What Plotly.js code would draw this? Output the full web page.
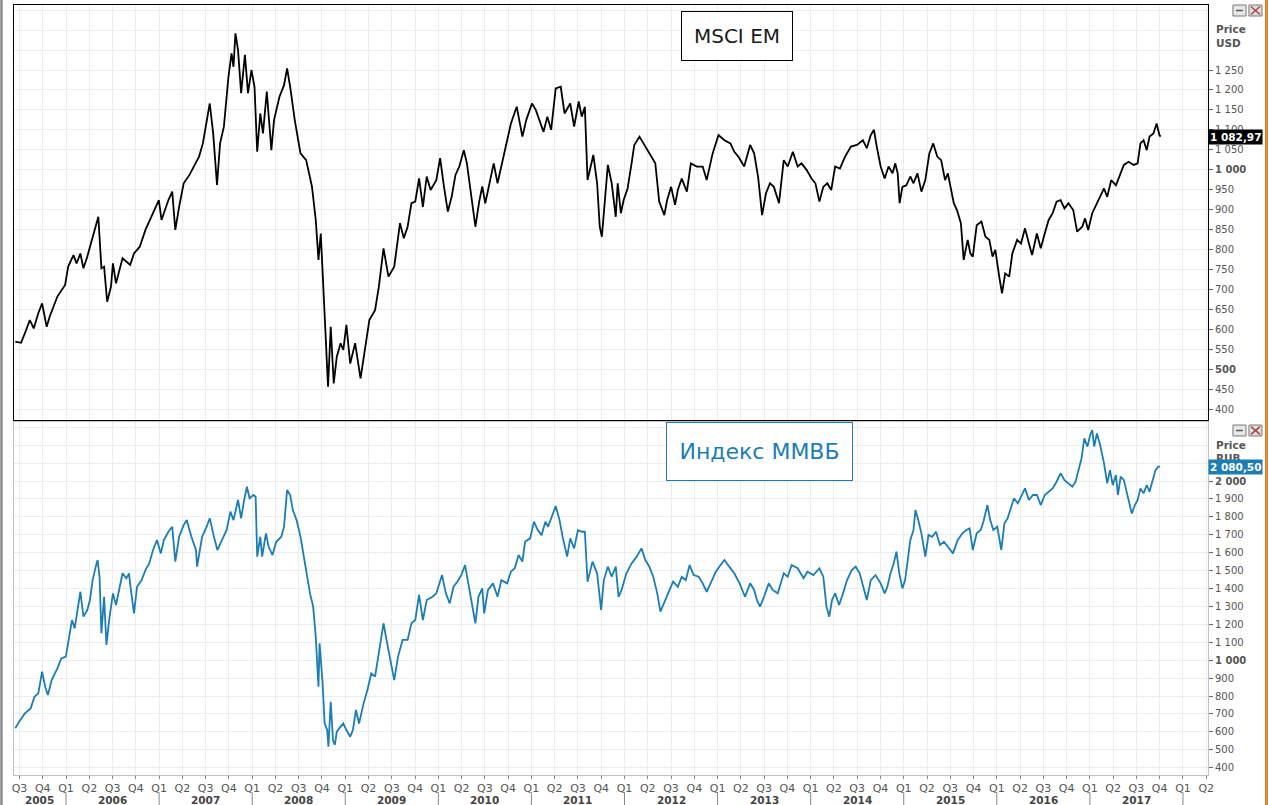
<!DOCTYPE html>
<html><head><meta charset="utf-8">
<script src="https://cdn.plot.ly/plotly-3.0.1.min.js"></script>
<style>html,body{margin:0;padding:0;background:#fff;}#chart{width:1269px;height:805px;}</style>
</head><body><div id="chart"></div>
<script>
// ---- data (decimal years, index values) ----
const MSCI_T = [2005.455,2005.517,2005.558,2005.611,2005.653,2005.702,2005.743,2005.792,2005.825,2005.907,2005.990,
2006.023,2006.080,2006.113,2006.154,2006.187,2006.228,2006.278,2006.319,2006.347,2006.380,2006.409,2006.442,2006.483,2006.504,2006.537,2006.607,2006.689,2006.730,2006.792,2006.853,2006.935,2006.997,
2007.026,2007.100,2007.141,2007.174,2007.215,2007.264,2007.326,2007.388,2007.429,2007.470,2007.511,2007.544,2007.581,2007.622,2007.655,2007.696,2007.745,2007.778,2007.799,2007.820,2007.848,2007.881,2007.922,2007.955,2007.992,
2008.025,2008.054,2008.087,2008.116,2008.157,2008.206,2008.235,2008.293,2008.342,2008.375,2008.408,2008.457,2008.519,2008.580,2008.642,2008.683,2008.712,2008.737,2008.765,2008.786,2008.815,2008.844,2008.876,2008.909,2008.950,2008.979,
2009.012,2009.053,2009.106,2009.164,2009.218,2009.259,2009.320,2009.361,2009.411,2009.464,2009.526,2009.588,2009.629,2009.670,2009.711,2009.752,2009.793,2009.834,2009.875,2009.917,2009.978,
2010.019,2010.060,2010.102,2010.143,2010.184,2010.225,2010.274,2010.307,2010.348,2010.398,2010.439,2010.472,2010.504,2010.554,2010.595,2010.636,2010.686,2010.739,2010.780,2010.842,2010.903,2010.945,
2011.006,2011.047,2011.130,2011.171,2011.212,2011.261,2011.315,2011.356,2011.417,2011.459,2011.508,2011.541,2011.574,2011.603,2011.665,2011.706,2011.734,2011.757,2011.791,2011.821,2011.863,2011.906,2011.927,2011.961,2011.991,
2012.033,2012.076,2012.105,2012.161,2012.224,2012.267,2012.331,2012.373,2012.428,2012.458,2012.501,2012.543,2012.573,2012.615,2012.670,2012.713,2012.777,2012.840,2012.883,2012.947,
2013.010,2013.074,2013.138,2013.180,2013.223,2013.286,2013.350,2013.393,2013.435,2013.478,2013.520,2013.563,2013.605,2013.660,2013.711,2013.754,2013.809,2013.860,2013.902,2013.958,
2014.009,2014.051,2014.094,2014.136,2014.179,2014.221,2014.263,2014.314,2014.370,2014.433,2014.497,2014.561,2014.603,2014.646,2014.680,2014.710,2014.752,2014.795,2014.837,2014.880,2014.909,2014.935,2014.956,2014.986,
2015.028,2015.071,2015.105,2015.147,2015.190,2015.232,2015.275,2015.317,2015.360,2015.402,2015.444,2015.474,2015.517,2015.538,2015.572,2015.614,2015.644,2015.687,2015.716,2015.742,2015.784,2015.835,2015.878,2015.920,2015.954,2015.984,
2016.026,2016.056,2016.090,2016.133,2016.167,2016.218,2016.260,2016.303,2016.345,2016.379,2016.430,2016.472,2016.515,2016.557,2016.600,2016.642,2016.685,2016.727,2016.770,2016.821,2016.863,2016.918,2016.948,2016.982,
2017.025,2017.067,2017.110,2017.152,2017.186,2017.229,2017.280,2017.322,2017.365,2017.416,2017.471,2017.513,2017.543,2017.577,2017.611,2017.641,2017.683,2017.717,2017.747,2017.760];
const MSCI_V = [569,566,590,623,602,640,665,606,632,682,711,
757,786,765,790,753,782,824,857,882,753,757,669,707,765,715,778,761,790,807,849,891,924,
874,924,945,849,907,966,987,1016,1033,1066,1125,1166,1091,962,1066,1108,1233,1292,1258,1342,1300,1192,1288,1192,1250,
1208,1045,1141,1091,1196,1049,1125,1183,1212,1254,1208,1125,1041,1024,958,874,774,840,690,606,456,606,464,531,565,548,
611,514,565,477,560,623,648,707,803,732,757,866,828,857,916,920,978,907,983,949,974,
1029,958,895,932,987,1008,1049,1016,941,857,920,958,916,974,1016,966,1016,1074,1116,1158,1083,1125,
1166,1150,1095,1133,1100,1204,1208,1141,1166,1108,1171,1133,1158,974,1037,966,857,832,941,1012,966,882,966,891,924,
953,1016,1062,1083,1058,1041,1016,920,886,924,957,912,949,978,945,1016,1008,1008,974,1041,
1087,1074,1066,1045,1033,1008,1062,1041,983,886,941,966,957,916,1024,1008,1045,1008,1016,999,
978,966,920,957,966,949,1008,1003,1033,1058,1062,1074,1054,1087,1100,1058,1008,978,1008,991,1016,991,916,957,
961,983,966,991,945,974,1041,1066,1033,1024,974,991,941,916,899,866,774,824,790,782,861,870,832,824,782,799,
732,690,740,732,790,824,815,853,815,786,840,803,840,874,891,920,924,903,916,899,845,857,878,849,
891,912,932,953,932,974,961,987,1012,1020,1012,1016,1066,1074,1049,1083,1091,1116,1087,1082.97];

const MICEX_T = [2005.455,2005.496,2005.558,2005.620,2005.661,2005.702,2005.743,2005.776,2005.805,2005.846,2005.907,2005.949,2005.998,
2006.031,2006.064,2006.093,2006.134,2006.154,2006.187,2006.228,2006.257,2006.286,2006.319,2006.339,2006.360,2006.380,2006.409,2006.434,2006.463,2006.504,2006.537,2006.574,2006.607,2006.648,2006.676,2006.697,2006.730,2006.763,2006.812,2006.853,2006.894,2006.935,2006.977,
2007.018,2007.051,2007.100,2007.141,2007.174,2007.215,2007.264,2007.297,2007.347,2007.396,2007.408,2007.462,2007.511,2007.544,2007.585,2007.626,2007.676,2007.725,2007.766,2007.799,2007.848,2007.881,2007.914,2007.943,2007.972,
2008.013,2008.037,2008.054,2008.087,2008.107,2008.148,2008.177,2008.218,2008.259,2008.313,2008.342,2008.375,2008.408,2008.437,2008.477,2008.519,2008.560,2008.580,2008.621,2008.655,2008.683,2008.712,2008.724,2008.757,2008.778,2008.806,2008.819,2008.844,2008.868,2008.888,2008.909,2008.950,2008.979,
2009.012,2009.053,2009.082,2009.115,2009.148,2009.197,2009.238,2009.279,2009.320,2009.361,2009.411,2009.443,2009.485,2009.526,2009.567,2009.616,2009.670,2009.711,2009.752,2009.793,2009.834,2009.875,2009.937,2009.978,
2010.040,2010.081,2010.122,2010.163,2010.204,2010.246,2010.287,2010.315,2010.356,2010.398,2010.431,2010.472,2010.492,2010.533,2010.587,2010.636,2010.677,2010.739,2010.780,2010.821,2010.862,2010.903,2010.932,2010.986,
2011.027,2011.068,2011.109,2011.150,2011.179,2011.212,2011.261,2011.302,2011.335,2011.384,2011.417,2011.459,2011.500,2011.541,2011.574,2011.603,2011.656,2011.706,2011.749,2011.778,2011.821,2011.863,2011.906,2011.936,2011.969,
2012.020,2012.076,2012.131,2012.182,2012.224,2012.267,2012.309,2012.352,2012.386,2012.437,2012.479,2012.522,2012.573,2012.615,2012.658,2012.700,2012.743,2012.798,2012.840,2012.883,2012.925,2012.981,
2013.032,2013.074,2013.125,2013.180,2013.236,2013.295,2013.350,2013.393,2013.422,2013.456,2013.499,2013.550,2013.592,2013.647,2013.711,2013.754,2013.796,2013.860,2013.924,2013.966,
2014.030,2014.094,2014.136,2014.170,2014.200,2014.229,2014.263,2014.306,2014.348,2014.391,2014.442,2014.484,2014.527,2014.569,2014.603,2014.646,2014.697,2014.752,2014.795,2014.824,2014.858,2014.892,2014.922,2014.952,2014.986,
2015.015,2015.041,2015.071,2015.105,2015.126,2015.156,2015.190,2015.232,2015.266,2015.304,2015.347,2015.389,2015.432,2015.474,2015.529,2015.580,2015.631,2015.674,2015.708,2015.742,2015.784,2015.827,2015.856,2015.899,2015.929,2015.963,
2016.005,2016.048,2016.082,2016.116,2016.141,2016.184,2016.226,2016.269,2016.303,2016.345,2016.388,2016.430,2016.472,2016.515,2016.557,2016.600,2016.642,2016.685,2016.727,2016.770,2016.812,2016.846,2016.876,2016.910,2016.940,2016.974,
2017.003,2017.025,2017.046,2017.076,2017.110,2017.152,2017.186,2017.216,2017.246,2017.280,2017.301,2017.331,2017.365,2017.399,2017.428,2017.450,2017.484,2017.513,2017.543,2017.577,2017.611,2017.641,2017.670,2017.705,2017.734,2017.755];
const MICEX_V = [620,657,703,731,796,815,936,852,806,889,954,1010,1020,
1113,1224,1178,1336,1382,1243,1280,1336,1447,1522,1559,1466,1150,1354,1085,1224,1373,1308,1392,1485,1457,1485,1392,1261,1410,1447,1503,1540,1615,1671,
1596,1671,1717,1745,1550,1689,1754,1782,1689,1615,1522,1689,1745,1792,1698,1615,1671,1726,1829,1782,1894,1792,1894,1968,1903,
1922,1912,1578,1689,1578,1708,1633,1587,1661,1689,1745,1950,1922,1838,1782,1689,1559,1485,1373,1299,1131,852,1094,870,647,610,517,768,554,527,601,629,647,
610,573,610,722,647,759,833,926,908,1038,1206,1113,1001,889,1020,1113,1113,1206,1224,1364,1224,1336,1354,1373,
1475,1373,1317,1410,1438,1475,1531,1447,1336,1206,1354,1401,1261,1392,1429,1354,1447,1429,1494,1513,1587,1550,1661,1680,
1773,1726,1698,1773,1745,1792,1860,1782,1689,1578,1680,1624,1726,1717,1717,1438,1550,1485,1280,1447,1522,1466,1522,1354,1392,
1485,1540,1578,1624,1559,1522,1466,1373,1271,1336,1392,1438,1410,1466,1447,1531,1475,1466,1429,1382,1429,1494,
1531,1559,1522,1485,1429,1354,1429,1392,1336,1299,1354,1429,1392,1373,1485,1466,1531,1513,1457,1494,
1475,1513,1466,1299,1243,1336,1373,1308,1373,1447,1503,1522,1485,1410,1336,1447,1475,1429,1373,1410,1485,1540,1606,1485,1401,
1447,1559,1671,1727,1838,1782,1708,1578,1699,1689,1717,1643,1661,1633,1596,1671,1708,1727,1736,1615,1708,1727,1773,1866,1782,1727,
1745,1615,1764,1792,1838,1903,1875,1922,1959,1894,1922,1922,1866,1922,1940,1959,1996,2043,2005,1987,1968,1996,2061,2126,2238,2192,
2257,2285,2192,2266,2201,2099,1987,2061,1978,2033,1922,2024,2005,1931,1866,1819,1866,1894,1959,1931,1978,1940,1996,2061,2080,2080.50];

const USD_TICKS = [400,450,500,550,600,650,700,750,800,850,900,950,1000,1050,1100,1150,1200,1250];
const RUB_TICKS = [400,500,600,700,800,900,1000,1100,1200,1300,1400,1500,1600,1700,1800,1900,2000];
const QUARTER_POS = [2005.5,2005.75,
2006,2006.25,2006.5,2006.75,2007,2007.25,2007.5,2007.75,2008,2008.25,2008.5,2008.75,
2009,2009.25,2009.5,2009.75,2010,2010.25,2010.5,2010.75,2011,2011.25,2011.5,2011.75,
2012,2012.25,2012.5,2012.75,2013,2013.25,2013.5,2013.75,2014,2014.25,2014.5,2014.75,
2015,2015.25,2015.5,2015.75,2016,2016.25,2016.5,2016.75,2017,2017.25,2017.5,2017.75,
2018,2018.25];
const QUARTER_LABELS = ['Q3','Q4',
'Q1','Q2','Q3','Q4','Q1','Q2','Q3','Q4','Q1','Q2','Q3','Q4',
'Q1','Q2','Q3','Q4','Q1','Q2','Q3','Q4','Q1','Q2','Q3','Q4',
'Q1','Q2','Q3','Q4','Q1','Q2','Q3','Q4','Q1','Q2','Q3','Q4',
'Q1','Q2','Q3','Q4','Q1','Q2','Q3','Q4','Q1','Q2','Q3','Q4',
'Q1','Q2'];
const YEAR_LABELS = ['2005','2006','2007','2008','2009','2010','2011','2012','2013','2014','2015','2016','2017'];
const YEAR_CENTERS = [2005.72,2006.5,2007.5,2008.5,2009.5,2010.5,2011.5,2012.5,2013.5,2014.5,2015.5,2016.5,2017.5];
const YEAR_BOUNDS = [2006,2007,2008,2009,2010,2011,2012,2013,2014,2015,2016,2017,2018];

// ---- helpers ----
function fmtInt(v){ return String(v).replace(/\B(?=(\d{3})+(?!\d))/g,' '); }
function fmtDec(v){ const p = v.toFixed(2).split('.'); return fmtInt(p[0]) + ',' + p[1]; }

const FONT = 'DejaVu Sans, Verdana, sans-serif';
const BLUE = '#1a7db4';
const GRID = '#ececec';

const traces = [
  {x: MSCI_T, y: MSCI_V, xaxis: 'x2', yaxis: 'y2', type: 'scatter', mode: 'lines',
   line: {color: '#000000', width: 1.8}, hoverinfo: 'skip'},
  {x: MICEX_T, y: MICEX_V, xaxis: 'x', yaxis: 'y', type: 'scatter', mode: 'lines',
   line: {color: BLUE, width: 1.8}, hoverinfo: 'skip'}
];

const annotations = [];
YEAR_LABELS.forEach((t, i) => annotations.push({
  x: YEAR_CENTERS[i], xref: 'x', y: -0.0325, yref: 'paper', text: '<b>' + t + '</b>',
  showarrow: false, font: {family: FONT, size: 10.5, color: '#444'}, xanchor: 'center', yanchor: 'middle',
  borderpad: 0
}));
annotations.push({x: 0.6055, xref: 'paper', y: 0.9597, yref: 'paper', text: 'MSCI EM', showarrow: false,
  font: {family: FONT, size: 20, color: '#1a1a1a'}, bordercolor: '#000', borderwidth: 1, bgcolor: '#fff',
  width: 108, height: 46, xanchor: 'center', yanchor: 'middle'});
annotations.push({x: 0.6244, xref: 'paper', y: 0.4201, yref: 'paper', text: 'Индекс ММВБ', showarrow: false,
  font: {family: FONT, size: 22, color: BLUE}, bordercolor: BLUE, borderwidth: 1, bgcolor: '#fff',
  width: 183, height: 55, xanchor: 'center', yanchor: 'middle'});
[['Price', 0.969], ['USD', 0.951], ['Price', 0.4286], ['RUB', 0.4117]].forEach(a => annotations.push({
  x: 1.005, xref: 'paper', y: a[1], yref: 'paper', text: '<b>' + a[0] + '</b>', showarrow: false,
  font: {family: FONT, size: 10.5, color: '#555'}, xanchor: 'left', yanchor: 'middle'
}));
annotations.push({x: 1, xref: 'paper', y: MSCI_V[MSCI_V.length - 1], yref: 'y2',
  text: '<b>' + fmtDec(MSCI_V[MSCI_V.length - 1]) + '</b>', showarrow: false, bgcolor: '#000',
  font: {family: FONT, size: 10.5, color: '#fff'}, xanchor: 'left', yanchor: 'middle', borderpad: 1});
annotations.push({x: 1, xref: 'paper', y: MICEX_V[MICEX_V.length - 1], yref: 'y',
  text: '<b>' + fmtDec(MICEX_V[MICEX_V.length - 1]) + '</b>', showarrow: false, bgcolor: BLUE,
  font: {family: FONT, size: 10.5, color: '#fff'}, xanchor: 'left', yanchor: 'middle', borderpad: 1});

const shapes = [];
YEAR_BOUNDS.forEach(b => shapes.push({type: 'line', xref: 'x', yref: 'paper', x0: b, x1: b,
  y0: -0.022, y1: -0.04, line: {color: '#888', width: 1}}));
// window frame: gray left edge, orange right edge
shapes.push({type: 'line', xref: 'paper', yref: 'paper', x0: -0.0105, x1: -0.0105, y0: -0.04, y1: 1.007,
  line: {color: '#8a8a8a', width: 2.5}});
shapes.push({type: 'line', xref: 'paper', yref: 'paper', x0: 1.049, x1: 1.049, y0: -0.04, y1: 1.007,
  line: {color: '#e3852f', width: 3}});
// small panel icons
[[1.0, 0.9857], [0.4545, 0.4403]].forEach(r => {
  shapes.push({type: 'rect', xref: 'paper', yref: 'paper', x0: 1.0209, x1: 1.0318, y0: r[1], y1: r[0],
    line: {color: '#777', width: 1}, fillcolor: '#e8e8e8'});
  shapes.push({type: 'rect', xref: 'paper', yref: 'paper', x0: 1.0343, x1: 1.0452, y0: r[1], y1: r[0],
    line: {color: '#777', width: 1}, fillcolor: '#e0e0e0'});
  shapes.push({type: 'line', xref: 'paper', yref: 'paper', x0: 1.0360, x1: 1.0435, y0: r[1] + 0.002, y1: r[0] - 0.002,
    line: {color: '#a44', width: 1.5}});
  shapes.push({type: 'line', xref: 'paper', yref: 'paper', x0: 1.0360, x1: 1.0435, y0: r[0] - 0.002, y1: r[1] + 0.002,
    line: {color: '#a44', width: 1.5}});
  shapes.push({type: 'line', xref: 'paper', yref: 'paper', x0: 1.0235, x1: 1.0292, y0: (r[0] + r[1]) / 2, y1: (r[0] + r[1]) / 2,
    line: {color: '#555', width: 1.5}});
});

const xCommon = {
  type: 'linear', range: [2005.441, 2018.269], tickmode: 'array', tickvals: QUARTER_POS,
  showgrid: true, gridcolor: GRID, gridwidth: 1, zeroline: false, fixedrange: true
};

const layout = {
  width: 1269, height: 805,
  margin: {l: 14, r: 61, t: 5, b: 30},
  paper_bgcolor: '#ffffff', plot_bgcolor: '#ffffff',
  showlegend: false,
  xaxis: Object.assign({}, xCommon, {
    domain: [0, 1], anchor: 'y', ticktext: QUARTER_LABELS, ticks: 'outside', ticklen: 3,
    tickcolor: '#888', tickfont: {family: FONT, size: 11, color: '#555'},
    showline: true, linecolor: '#c2c2c2', linewidth: 1, mirror: true
  }),
  xaxis2: Object.assign({}, xCommon, {
    domain: [0, 1], anchor: 'y2', matches: 'x', showticklabels: false, ticks: '',
    showline: true, linecolor: '#000', linewidth: 1, mirror: true
  }),
  yaxis: {
    domain: [0, 0.4584], anchor: 'x', side: 'right', range: [359.2, 2329.3],
    tickmode: 'array', tickvals: RUB_TICKS,
    ticktext: RUB_TICKS.map(v => v % 1000 === 0 ? '<b>' + fmtInt(v) + '</b>' : fmtInt(v)),
    ticks: 'outside', ticklen: 4, tickcolor: '#666',
    tickfont: {family: FONT, size: 10, color: '#555'},
    showgrid: true, gridcolor: GRID, zeroline: false,
    minor: {tick0: 0, dtick: 100, showgrid: true, gridcolor: GRID, ticks: ''},
    showline: true, linecolor: '#c2c2c2', linewidth: 1, mirror: true, fixedrange: true
  },
  yaxis2: {
    domain: [0.461, 1], anchor: 'x2', side: 'right', range: [372.4, 1413],
    tickmode: 'array', tickvals: USD_TICKS,
    ticktext: USD_TICKS.map(v => v % 500 === 0 ? '<b>' + fmtInt(v) + '</b>' : fmtInt(v)),
    ticks: 'outside', ticklen: 4, tickcolor: '#666',
    tickfont: {family: FONT, size: 10, color: '#555'},
    showgrid: true, gridcolor: GRID, zeroline: false,
    minor: {tick0: 0, dtick: 50, showgrid: true, gridcolor: GRID, ticks: ''},
    showline: true, linecolor: '#000', linewidth: 1, mirror: true, fixedrange: true
  },
  annotations: annotations,
  shapes: shapes
};

Plotly.newPlot('chart', traces, layout, {displayModeBar: false, staticPlot: true});
</script>
</body></html>
